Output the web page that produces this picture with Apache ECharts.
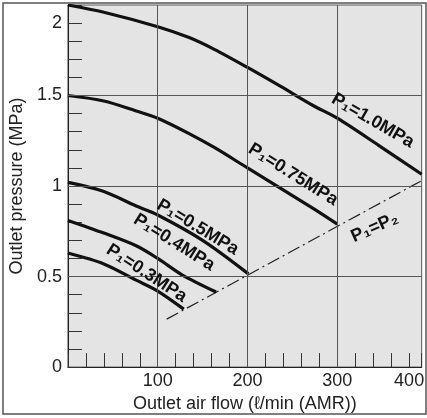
<!DOCTYPE html>
<html><head><meta charset="utf-8">
<script src="https://cdn.jsdelivr.net/npm/echarts@6/dist/echarts.min.js"></script>
<style>html,body{margin:0;padding:0;background:#fff}#c{width:427px;height:418px}</style>
</head><body><div id="c"></div>
<script>
// Tick labels (value position -> shown text)
const xLabelValues = [100, 200, 300, 380];
const xLabelTexts = ['100', '200', '300', '400'];
const yLabelValues = [0, 0.5, 1, 1.5, 1.9];
const yLabelTexts = ['0', '0.5', '1', '1.5', '2'];
const xGridValues = [100, 200, 300];
const yGridValues = [0.5, 1, 1.5];

// Curves: outlet air flow (l/min) vs outlet pressure (MPa)
const flowP10 = [0, 40, 100, 135, 163, 200, 237, 273, 300, 346, 394];
const presP10 = [2.0, 1.96, 1.88, 1.82, 1.755, 1.655, 1.55, 1.445, 1.375, 1.225, 1.065];
const flowP075 = [0, 40, 76, 100, 135, 163, 200, 273, 300];
const presP075 = [1.5, 1.47, 1.415, 1.375, 1.29, 1.213, 1.10, 0.877, 0.79];
const flowP05 = [0, 40, 76, 100, 150, 201];
const presP05 = [1.02, 0.97, 0.89, 0.84, 0.70, 0.515];
const flowP04 = [0, 40, 76, 100, 127, 165];
const presP04 = [0.81, 0.74, 0.67, 0.60, 0.51, 0.415];
const flowP03 = [0, 40, 76, 100, 129];
const presP03 = [0.63, 0.57, 0.48, 0.42, 0.32];
const flowEq = [110, 394];
const presEq = [0.265, 1.03];

// Curve labels
const curveLabelTexts = ['P\u2081=1.0MPa', 'P\u2081=0.75MPa', 'P\u2081=0.5MPa', 'P\u2081=0.4MPa', 'P\u2081=0.3MPa', 'P\u2081=P\u2082'];
const curveLabelX = [339.5, 250.8, 144.6, 118.3, 87.6, 341.7];
const curveLabelY = [1.361, 1.063, 0.772, 0.689, 0.518, 0.771];
const curveLabelAngle = [-30, -32, -31, -32, -33, 24];

const FONT = '"Liberation Sans", Arial, sans-serif';
const pairs = (xs, ys) => xs.map((x, i) => [x, ys[i]]);
const lookup = (vals, texts, v) => {
  const i = vals.findIndex(t => Math.abs(t - v) < 1e-6);
  return i >= 0 ? texts[i] : '';
};

const chart = echarts.init(document.getElementById('c'), null, {renderer: 'canvas'});
const curveStyle = {color: '#111', width: 3.2};
const mkCurve = (xs, ys) => ({
  type: 'line', data: pairs(xs, ys), showSymbol: false, smooth: 0.3,
  lineStyle: curveStyle, silent: true, z: 3
});

chart.setOption({
  animation: false,
  grid: {left: 64, right: 3, top: 5, bottom: 50, show: true,
    backgroundColor: '#e4e4e4', borderColor: '#555', borderWidth: 1},
  xAxis: {
    type: 'value', min: 0, max: 394, interval: 20,
    name: 'Outlet air flow (\u2113/min (AMR))', nameLocation: 'middle', nameGap: 26,
    nameTextStyle: {fontSize: 18, color: '#222', fontFamily: FONT},
    axisLine: {show: true, lineStyle: {color: '#222', width: 1}},
    axisTick: {show: true, inside: true, length: 14, lineStyle: {color: '#333', width: 1}},
    axisLabel: {fontSize: 18, color: '#222', fontFamily: FONT, margin: 5,
      formatter: v => lookup(xLabelValues, xLabelTexts, v)},
    splitLine: {show: false}
  },
  yAxis: {
    type: 'value', min: 0, max: 2.0, interval: 0.1,
    name: 'Outlet pressure (MPa)', nameLocation: 'middle', nameGap: 31,
    nameTextStyle: {fontSize: 18, color: '#222', fontFamily: FONT},
    axisLine: {show: true, lineStyle: {color: '#222', width: 1}},
    axisTick: {show: true, inside: true, length: 14, lineStyle: {color: '#333', width: 1}},
    axisLabel: {fontSize: 18, color: '#222', fontFamily: FONT, margin: 6,
      formatter: v => lookup(yLabelValues, yLabelTexts, Math.round(v * 10) / 10)},
    splitLine: {show: false}
  },
  series: [
    {
      type: 'line', data: pairs(flowEq, presEq), showSymbol: false, silent: true, z: 2,
      lineStyle: {color: '#222', width: 1.2, type: [13, 4, 2, 4]},
      markLine: {
        silent: true, symbol: 'none', label: {show: false},
        lineStyle: {color: '#555', width: 1, type: 'solid'},
        data: xGridValues.map(v => ({xAxis: v})).concat(yGridValues.map(v => ({yAxis: v})))
      }
    },
    mkCurve(flowP10, presP10),
    mkCurve(flowP075, presP075),
    mkCurve(flowP05, presP05),
    mkCurve(flowP04, presP04),
    mkCurve(flowP03, presP03)
  ]
});

const texts = curveLabelTexts.map((t, i) => {
  const p = chart.convertToPixel({gridIndex: 0}, [curveLabelX[i], curveLabelY[i]]);
  return {
    type: 'text', x: p[0], y: p[1], rotation: curveLabelAngle[i] * Math.PI / 180, z: 10,
    style: {text: t, font: 'bold 18px ' + FONT, fill: '#111', align: 'center', verticalAlign: 'middle'}
  };
});
chart.setOption({
  graphic: [
    {type: 'rect', shape: {x: 3, y: 3, width: 423, height: 411}, z: 20,
      style: {fill: null, stroke: '#555', lineWidth: 1.5}}
  ].concat(texts)
});
</script></body></html>
